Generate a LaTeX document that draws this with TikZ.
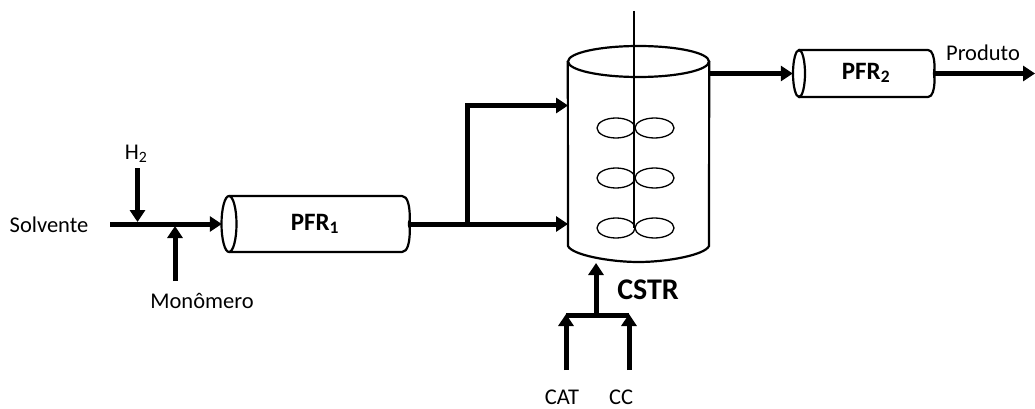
\documentclass[tikz,border=0pt]{standalone}
\usepackage{fontspec}
\setmainfont{Carlito}
\usetikzlibrary{arrows.meta}
\tikzset{
  flow/.style={line width=5pt,-{Triangle[length=12pt,width=15pt]}},
  pipe/.style={line width=5pt},
  vessel/.style={line width=2.2pt},
  label/.style={font=\fontsize{22.5}{24}\selectfont,inner sep=0pt},
  tag/.style={font=\fontsize{25}{27}\selectfont\bfseries,inner sep=0pt},
  body/.style={inner sep=0pt,minimum height=#1},
}
\begin{document}
\begin{tikzpicture}[x=1pt,y=-1pt]
\useasboundingbox (0,0) rectangle (1035,409);

% Reactor bodies, drawn from the anchors of their nodes.
\node[body=56pt,minimum width=187pt] (pfrA) at (315.5,224) {};
\node[body=47pt,minimum width=141pt] (pfrB) at (863.5,73.5) {};
\node[body=186pt,minimum width=141pt] (cstr) at (638.5,154) {};

\draw[vessel] (229,196) -- (402,196) to[out=0,in=-90] (409,224) to[out=90,in=0] (402,252) -- (229,252);
\draw[vessel] (229,224) ellipse (7.5 and 28);
\draw[vessel] (799,50) -- (928,50) to[out=0,in=-90] (934,73.5) to[out=90,in=0] (928,97) -- (799,97);
\draw[vessel] (799,73.5) ellipse (6 and 23.5);

\draw[vessel] (638.5,61.5) ellipse (70.5 and 15.5);
\draw[vessel] (cstr.north west) -- (568,246) .. controls (572,255) and (610,262) .. (638.5,262) .. controls (667,262) and (705,255) .. (709,246) -- (cstr.north east);

% Shaft and impellers.
\draw[line width=1.2pt] (634,11) -- (634,228);
\foreach \y in {128,178,228} {
  \draw[line width=1.3pt] (616,\y) ellipse (19 and 10);
  \draw[line width=1.3pt] (654.5,\y) ellipse (19.5 and 10);
}

% Joints and free ends of the lines.
\coordinate (solvEnd) at (110,224);
\coordinate (hEnd) at (137.5,168);
\coordinate (hJoin) at (137.5,222);
\coordinate (monoEnd) at (175,281);
\coordinate (monoJoin) at (175,226);
\coordinate (split) at (467,224);
\coordinate (upper) at (467,105.5);
\coordinate (cstrUp) at (568,105.5);
\coordinate (cstrLow) at (568,224);
\coordinate (outEnd) at (1035,73.5);
\coordinate (feedTop) at (596,263);
\coordinate (feedJoin) at (596,315);
\coordinate (catEnd) at (566,370);
\coordinate (catJoin) at (566,314);
\coordinate (ccEnd) at (629,370);
\coordinate (ccJoin) at (629,314);

\draw[flow] (solvEnd) -- (pfrA.west);
\draw[flow] (hEnd) -- (hJoin);
\draw[flow] (monoEnd) -- (monoJoin);
\draw[flow] (pfrA.east) -- (cstrLow);
\draw[flow] (split) -- (upper) -- (cstrUp);
\draw[flow] (709,73.5) -- (pfrB.west);
\draw[flow] (pfrB.east) -- (outEnd);
\draw[flow] (feedJoin) -- (feedTop);
\draw[flow] (catEnd) -- (catJoin);
\draw[flow] (ccEnd) -- (ccJoin);
\draw[pipe] (catJoin |- feedJoin) -- (ccJoin |- feedJoin);

\node[label] (solv) at (49,225) {Solvente};
\node[label] (htwo) at (136,154) {H\textsubscript{2}};
\node[label] (mono) at (202,301) {Monômero};
\node[label] (cat) at (562,397) {CAT};
\node[label] (cc) at (621,397) {CC};
\node[label] (prod) at (983,53) {Produto};
\node[tag] (pfrAtag) at (315,224) {PFR\textsubscript{1}};
\node[tag] (pfrBtag) at (866,73) {PFR\textsubscript{2}};
\node[tag,font=\fontsize{30}{32}\selectfont\bfseries] (cstrtag) at (648,290) {CSTR};
\end{tikzpicture}
\end{document}
